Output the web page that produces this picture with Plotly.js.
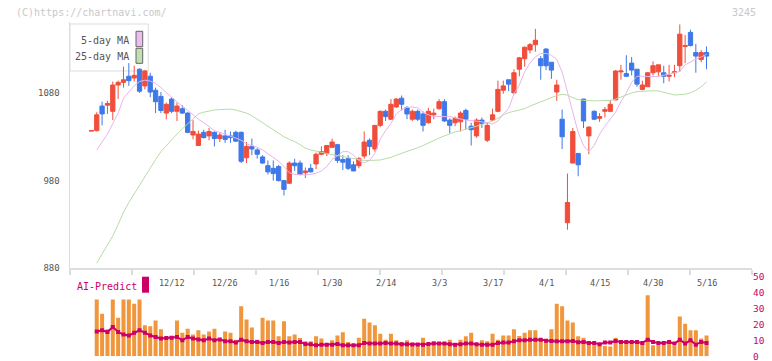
<!DOCTYPE html>
<html><head><meta charset="utf-8">
<script src="https://cdn.plot.ly/plotly-3.0.1.min.js"></script>
<style>html,body{margin:0;padding:0;background:#fff;}#chart{width:772px;height:361px;}</style>
</head><body><div id="chart"></div>
<script>
// ---- data (index 0..115 = trading days 11/21 .. 5/16) ----
const openP = [
1036.5,1037,1065,1066,1059,1089,1092,1099,1097,1107,
1088,1099,1083,1076,1057,1073,1059,1062,1057,1032,
1020,1035,1031,1035,1028,1031,1031,1035,1035,1006,
1019,1015,1007,997,994,996,980,977,1000,1000,
989,994,999,1010,1011,1018,1021,1004,1005,998,
997,1008,1026,1016,1043,1059,1050,1064,1074,1063,
1050,1059,1056,1046,1055,1062,1070,1049,1046,1047,
1060,1042,1031,1049,1026,1049,1059,1083,1095,1080,
1107,1119,1129,1135,1119,1130,1115,1081,1050,932,
1000,1011,1073,1031,1059,1051,1059,1059,1072,1104,
1102,1114,1107,1084,1087,1103,1104,1103,1099,1103,
1111,1133,1149,1126,1118,1126];
const highP = [
1037,1058,1070,1071,1093,1094,1110,1114,1111,1108,
1106,1103,1086,1081,1069,1075,1069,1066,1058,1049,
1037,1038,1040,1036,1035,1038,1036,1037,1036,1024,
1028,1017,1009,1003,1003,998,980,1002,1005,1003,
995,999,1012,1019,1020,1028,1022,1009,1009,1002,
1007,1036,1028,1043,1060,1061,1073,1074,1077,1065,
1061,1061,1059,1063,1062,1073,1073,1051,1053,1059,
1062,1046,1051,1052,1046,1062,1094,1094,1095,1107,
1121,1133,1137,1153,1122,1131,1115,1095,1061,988,
1040,1011,1073,1042,1060,1057,1064,1072,1106,1112,
1123,1121,1107,1094,1104,1116,1112,1111,1112,1112,
1158,1146,1152,1136,1129,1133];
const lowP = [
1036.5,1036,1043,1056,1049,1073,1086,1088,1093,1080,
1084,1075,1057,1057,1050,1057,1048,1056,1034,1027,
1020,1028,1026,1019,1024,1023,1023,1024,1000,1000,
1009,1005,999,987,980,979,963,976,991,986,
983,989,993,1009,1008,1017,1000,992,992,991,
994,1005,1009,1013,1041,1048,1049,1063,1060,1050,
1048,1048,1036,1045,1050,1061,1047,1034,1042,1036,
1038,1020,1029,1040,1024,1048,1058,1079,1082,1080,
1099,1110,1125,1127,1095,1106,1096,1071,1016,924,
1000,985,1040,1010,1049,1047,1052,1058,1072,1095,
1098,1100,1087,1083,1087,1100,1099,1091,1093,1098,
1104,1114,1133,1103,1115,1107];
const closeP = [
1037,1055,1056,1068,1089,1092,1095,1094,1100,1082,
1105,1081,1070,1060,1067,1059,1065,1057,1035,1036,
1033,1029,1036,1028,1032,1027,1029,1025,1002,1019,
1016,1010,1000,990,988,980,970,1000,997,987,
991,990,1010,1013,1020,1024,1003,1001,994,991,
1005,1024,1019,1043,1059,1053,1067,1073,1067,1056,
1059,1050,1043,1059,1057,1070,1048,1043,1051,1057,
1050,1038,1049,1045,1043,1055,1084,1088,1090,1103,
1120,1132,1135,1140,1111,1111,1106,1089,1030,955,
1036,998,1048,1041,1050,1053,1061,1067,1105,1105,
1099,1106,1090,1089,1103,1111,1112,1099,1100,1104,
1147,1134,1134,1122,1126,1122];
const ma5 = [
null,1015,1024,1033,1045,1057,1074,1081,1088,1093,
1094.5,1093.5,1091,1086,1080,1075,1070,1065,1060,1054.5,
1050,1046,1041,1037,1035,1033,1031,1028.5,1026,1022,
1020,1018,1015,1011,1007,1002,996,989,987,986.5,
986.5,987,988.5,991,996,1004,1009,1013,1013,1009,
1003,1000,1003,1011,1027,1037,1045,1056,1061,1063.5,
1064,1063,1058,1055,1053,1053,1053.5,1053,1051.5,1050,
1049,1048.5,1048,1047,1046,1044.5,1048,1056,1062,1079,
1089,1104,1114,1121,1125,1125,1123,1118,1104,1080,
1056,1035,1020,1013,1020,1033,1042,1050,1058,1070,
1080,1092,1099,1099,1098.5,1098.5,1099,1100,1101.5,1103,
1104.5,1112,1115.5,1118.5,1121,1124];
const ma25 = [
null,886,896,906,917,930,944,955,965,975,
985,995,1004,1013,1020,1027,1033,1039,1045,1051,
1056,1058,1059.5,1060.5,1061,1061.5,1061.5,1060.5,1059,1057,
1054,1050,1045,1041,1037.5,1034,1030,1027,1024.5,1021,
1017,1015,1013.5,1012,1010.5,1009.5,1008.5,1007.5,1006,1005,
1004,1003,1003,1003,1003.5,1005,1006.5,1009,1011,1013,
1015.5,1017.5,1020,1023,1025.5,1028.5,1031,1033.5,1035.5,1037,
1038.5,1040,1042,1044,1046,1048,1051,1055,1057.5,1059,
1060.5,1062,1065,1067.5,1070,1072.5,1075,1077,1078.4,1077.5,
1074.5,1072.5,1071.5,1071,1071,1071,1071,1071.5,1073,1075.5,
1078,1080,1081.5,1082,1082.3,1082.4,1082.3,1081,1079,1077.6,
1078,1078.5,1080,1083,1087,1092.5];
const aiBars = [
null,35.6,26.7,17,35.6,24.2,35.6,35.6,32.9,35.6,
19.4,18.8,22.5,16.9,11.1,12.5,22.5,14.8,17.3,13.6,
16.3,13.6,15.6,17.3,11.1,15.6,14.8,10.4,31.3,23.0,
18.0,10.4,24.2,22.5,22.5,12.5,21.9,12.5,13.6,11.5,
9.4,9.4,12.5,11.1,8.0,10.0,13.1,15.0,9.0,7.3,
11.7,23.6,21.1,19.4,14.2,10.4,14.2,10.0,9.0,10.0,
8.5,7.6,11.7,7.3,9.4,7.3,9.0,10.4,7.3,10.4,
12.5,14.8,8.4,10.0,9.4,14.2,10.4,13.1,13.1,16.9,
12.7,14.8,16.3,16.3,11.1,10.6,16.9,32.9,31.3,22.5,
21.1,12.5,11.7,9.6,7.5,6.9,6.5,6.1,11.7,10.0,
9.0,8.4,8.4,8.0,38.2,6.9,7.3,7.3,8.0,6.5,
25.0,20.4,16.3,16.3,11.1,13.1];
const aiLine = [
null,15.6,16.3,15.2,18.4,15.2,13.6,13.1,14.8,16.3,
14.8,13.1,12.1,11.1,11.5,11.7,12.1,10.0,12.1,11.1,
10.6,10.0,11.1,10.0,10.6,9.4,9.4,8.6,10.4,9.4,
9.0,9.0,8.4,9.0,9.0,8.4,9.0,8.6,9.0,9.0,
7.7,7.5,6.9,7.3,7.3,7.3,7.7,6.9,6.9,6.9,
6.9,8.4,8.0,8.0,8.0,8.4,8.0,8.0,7.5,7.5,
7.4,7.4,7.3,7.7,8.0,8.0,8.0,7.5,7.3,7.5,
8.0,8.0,7.5,7.3,7.3,7.3,8.4,8.6,8.6,9.4,
10.0,10.0,10.4,10.4,10.4,9.8,9.6,9.4,9.4,9.4,
9.6,8.8,9.0,8.4,8.4,7.5,8.6,8.6,9.6,9.0,
9.0,9.0,9.0,8.4,10.4,9.0,8.4,8.4,9.0,8.0,
10.4,8.0,10.0,7.3,9.0,8.4];
const dateLabels = ['12/12','12/26','1/16','1/30','2/14','3/3','3/17','4/1','4/15','4/30','5/16'];
const dateLabelIdx = [15,25,35,45,55,65,75,85,95,105,115];
const priceTicks = [880, 980, 1080];
const aiTicks = [0, 10, 20, 30, 40, 50];
const legendNames = ['5-day MA', '25-day MA'];

[openP, highP, lowP, closeP, ma5, ma25, aiBars, aiLine].forEach((a, k) => {
  if (a.length !== 116) throw new Error('array ' + k + ' has length ' + a.length);
});

// ---- layout helpers ----
const W = 772, H = 361;
const px = v => v / W;
const py = v => 1 - v / H;
const idx = openP.map((_, i) => i);
const xRange = [-4.0, 123.5];
const gridTicks = [];
for (let k = 0; k <= 11; k++) gridTicks.push(xRange[0] + k * (xRange[1] - xRange[0]) / 11);

const mono = 'DejaVu Sans Mono, monospace';
const RED = '#f04e3c', BLUE = '#3f78e8';
const PINK = '#e8b4ec', GREEN = '#b6dca6';
const ORANGE = '#f0963c', CRIMSON = '#cc0066';

const traces = [
  {type: 'candlestick', x: idx, open: openP, high: highP, low: lowP, close: closeP,
   xaxis: 'x', yaxis: 'y', whiskerwidth: 0, hoverinfo: 'skip', showlegend: false,
   increasing: {line: {color: RED, width: 1}, fillcolor: RED},
   decreasing: {line: {color: BLUE, width: 1}, fillcolor: BLUE}},
  {type: 'scatter', mode: 'lines', x: idx, y: ma25, xaxis: 'x', yaxis: 'y', name: legendNames[1],
   line: {color: GREEN, width: 1}, hoverinfo: 'skip', showlegend: false},
  {type: 'scatter', mode: 'lines', x: idx, y: ma5, xaxis: 'x', yaxis: 'y', name: legendNames[0],
   line: {color: PINK, width: 1}, hoverinfo: 'skip', showlegend: false},
  {type: 'bar', x: idx, y: aiBars, xaxis: 'x2', yaxis: 'y2', marker: {color: ORANGE, line: {width: 0}},
   hoverinfo: 'skip', showlegend: false},
  {type: 'scatter', mode: 'lines+markers', x: idx, y: aiLine, xaxis: 'x2', yaxis: 'y2',
   line: {color: CRIMSON, width: 2}, marker: {color: CRIMSON, size: 4, symbol: 'square'},
   hoverinfo: 'skip', showlegend: false}
];

const annotations = [
  {text: '(C)https://chartnavi.com/', xref: 'paper', yref: 'paper', x: px(14), y: py(12.5),
   xanchor: 'left', yanchor: 'middle', showarrow: false, font: {family: mono, size: 10, color: '#c8c8c8'}},
  {text: '3245', xref: 'paper', yref: 'paper', x: px(757.5), y: py(12), xanchor: 'right', yanchor: 'middle',
   showarrow: false, font: {family: mono, size: 10, color: '#c8c8c8'}},
  {text: legendNames[0], xref: 'paper', yref: 'paper', x: px(130.5), y: py(40.5), xanchor: 'right', yanchor: 'middle',
   showarrow: false, font: {family: mono, size: 10, color: '#555'}},
  {text: legendNames[1], xref: 'paper', yref: 'paper', x: px(130.5), y: py(56.5), xanchor: 'right', yanchor: 'middle',
   showarrow: false, font: {family: mono, size: 10, color: '#555'}},
  {text: 'AI-Predict', xref: 'paper', yref: 'paper', x: px(75), y: py(286), xanchor: 'left', yanchor: 'middle',
   showarrow: false, font: {family: mono, size: 10, color: CRIMSON}}
];
dateLabels.forEach((t, k) => annotations.push({
  text: t, xref: 'x', yref: 'paper', x: dateLabelIdx[k], y: py(282.5), xanchor: 'center', yanchor: 'middle',
  showarrow: false, font: {family: mono, size: 8.5, color: '#555'}
}));

const shapes = [
  {type: 'rect', xref: 'paper', yref: 'paper', x0: px(70), x1: px(148.3), y0: py(71), y1: py(24),
   line: {color: '#dddddd', width: 1}, fillcolor: '#ffffff', layer: 'below'},
  {type: 'rect', xref: 'paper', yref: 'paper', x0: px(136), x1: px(142.7), y0: py(46.7), y1: py(31.3),
   line: {color: '#666', width: 1}, fillcolor: '#eebcf0'},
  {type: 'rect', xref: 'paper', yref: 'paper', x0: px(136), x1: px(142.7), y0: py(63.3), y1: py(48.3),
   line: {color: '#666', width: 1}, fillcolor: '#bfe0b0'},
  {type: 'rect', xref: 'paper', yref: 'paper', x0: px(142), x1: px(149), y0: py(292.7), y1: py(276.7),
   line: {width: 0}, fillcolor: CRIMSON}
];

const layout = {
  width: W, height: H, margin: {l: 0, r: 0, t: 0, b: 0},
  paper_bgcolor: '#fff', plot_bgcolor: 'rgba(0,0,0,0)', showlegend: false,
  bargap: 0.25, boxgap: 0.2, boxgroupgap: 0,
  font: {family: mono, color: '#555'},
  xaxis: {domain: [px(70), px(752)], range: xRange, anchor: 'y', showgrid: false, zeroline: false,
    showline: true, linecolor: '#dddddd', linewidth: 1.5, ticks: 'outside', ticklen: 5, tickwidth: 1.5,
    tickcolor: '#dddddd', tickvals: gridTicks, showticklabels: false, rangeslider: {visible: false}, fixedrange: true},
  xaxis3: {overlaying: 'x', anchor: 'y', range: xRange, showgrid: false, zeroline: false, showline: false,
    ticks: 'inside', ticklen: 3, tickwidth: 1.5, tickcolor: '#dddddd', tickvals: gridTicks,
    showticklabels: false, fixedrange: true},
  yaxis: {domain: [py(268.3), py(22)], range: [880, 880 + (268.3 - 22) * 1.1403], anchor: 'x',
    showgrid: false, zeroline: false, showline: true, linecolor: '#dddddd', linewidth: 1.5,
    ticks: '', ticklabelstandoff: 7, tickvals: priceTicks, ticklabeloverflow: 'allow',
    tickfont: {family: mono, size: 9, color: '#555'}, fixedrange: true},
  xaxis2: {domain: [px(70), px(752)], range: xRange, anchor: 'y2', visible: false, fixedrange: true},
  yaxis2: {domain: [py(356.3), py(276.5)], range: [0, 50], anchor: 'x2', side: 'right',
    showgrid: false, zeroline: false, showline: false, ticks: '', tickvals: aiTicks, ticklabeloverflow: 'allow',
    tickfont: {family: mono, size: 9.5, color: CRIMSON}, fixedrange: true},
  annotations: annotations, shapes: shapes
};

Plotly.newPlot('chart', traces, layout, {staticPlot: true, displayModeBar: false});
</script>
</body></html>
